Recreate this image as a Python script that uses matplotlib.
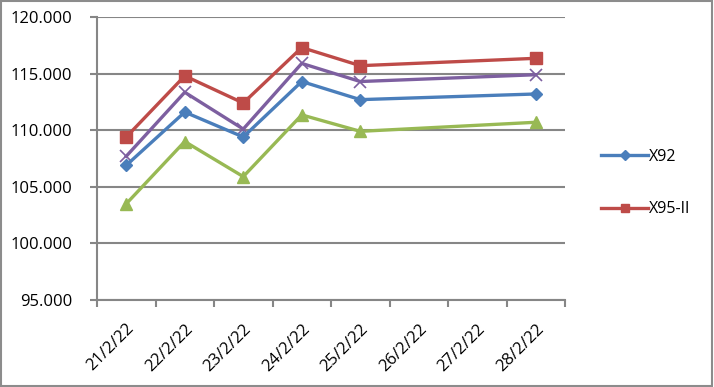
import datetime as dt
import matplotlib
matplotlib.use("Agg")
import matplotlib.pyplot as plt
import matplotlib.dates as mdates
from matplotlib.lines import Line2D
from matplotlib.ticker import FuncFormatter

# data
dates = [dt.date(2022, 2, d) for d in (21, 22, 23, 24, 25, 28)]
x92 = [106.9, 111.6, 109.4, 114.3, 112.7, 113.2]
x95 = [109.4, 114.8, 112.4, 117.3, 115.7, 116.35]
purple = [107.7, 113.35, 110.1, 115.9, 114.3, 114.9]
green = [103.5, 109.0, 105.9, 111.35, 109.9, 110.7]
day_labels = [dt.date(2022, 2, d) for d in range(21, 29)]

plt.rcParams['font.family'] = ['Open Sans', 'DejaVu Sans']

fig = plt.figure(figsize=(7.14, 3.87), dpi=100)
ax = fig.add_axes([97/714, 1-300/387, (565-97)/714, (300-17)/387])

grid_c = '#868686'
ax.plot(dates, x95, color='#BE4B48', lw=2.4, marker='s', ms=8, zorder=3)
ax.plot(dates, purple, color='#7D5FA0', lw=2.4, marker='x', ms=8, mew=1.2, zorder=3)
ax.plot(dates, x92, color='#4A7EBB', lw=2.4, marker='D', ms=6, zorder=3)
ax.plot(dates, green, color='#98B954', lw=2.4, marker='^', ms=8, zorder=3)

ax.set_ylim(95, 120)
ax.set_yticks([95, 100, 105, 110, 115, 120])
ax.yaxis.set_major_formatter(FuncFormatter(lambda v, p: f"{v:.3f}"))
ax.grid(axis='y', color=grid_c, lw=1.5)
ax.set_axisbelow(True)

start = mdates.date2num(dt.datetime(2022, 2, 21)) - 0.5
ax.set_xlim(start, start + 8)
ax.set_xticks([start + i for i in range(9)])
ax.set_xticklabels([])
ax.set_xticks([mdates.date2num(d) for d in day_labels], minor=True)
ax.set_xticklabels([f"{d.day}/{d.month}/{d.strftime('%y')}" for d in day_labels],
                   minor=True, rotation=45, ha='right', va='top', rotation_mode='anchor')
ax.tick_params(axis='x', which='major', length=5, color=grid_c, width=1.5)
ax.tick_params(axis='x', which='minor', length=0, pad=15, labelsize=12)
ax.tick_params(axis='y', length=5, color=grid_c, width=1.5, labelsize=12, pad=13)

for s in ('top', 'right'):
    ax.spines[s].set_visible(False)
for s in ('left', 'bottom'):
    ax.spines[s].set_color(grid_c)
    ax.spines[s].set_linewidth(1.5)

handles = [Line2D([], [], color='#4A7EBB', lw=2.4, marker='D', ms=5),
           Line2D([], [], color='#BE4B48', lw=2.4, marker='s', ms=6)]
fig.legend(handles, ['X92', 'X95-II'], loc='center left',
           bbox_to_anchor=(587/714, 1-183/387), frameon=False,
           fontsize=11.5, labelspacing=2.3, handlelength=2.9, handletextpad=0.1)

fig.patches.append(plt.Rectangle((0.002, 0.003), 0.995, 0.994, transform=fig.transFigure,
                                 fill=False, edgecolor='#8c8c8c', lw=1.5))

fig.savefig('out.png', dpi=100)
